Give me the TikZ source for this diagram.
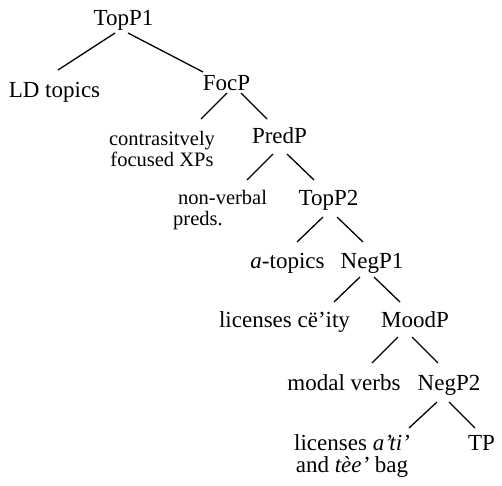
\documentclass[tikz,border=0pt]{standalone}
\usepackage{fontspec}
\setmainfont{Liberation Serif}
\begin{document}
\begin{tikzpicture}[x=1pt,y=-1pt,
  lbl/.style={inner sep=0pt,anchor=base,font=\fontsize{23}{23}\selectfont},
  sml/.style={inner sep=0pt,anchor=base,font=\fontsize{20.5}{21}\selectfont},
  twol/.style={inner sep=0pt,anchor=base,align=center,font=\fontsize{23}{22}\selectfont},
  edge/.style={line width=1.3pt}]
\useasboundingbox (0,0) rectangle (502,485);
\node[lbl] (topp1) at (123.5,25) {TopP1};
\node[lbl] (ld) at (54.5,97) {LD topics};
\node[lbl] (focp) at (226.5,90) {FocP};
\node[sml,align=center] (contr) at (162,166) {contrasitvely\\focused XPs};
\node[lbl] (predp) at (279.5,143) {PredP};
\node[sml,align=left,anchor=base west] (nonverb) at (173,225) {\hspace*{5pt}non-verbal\\preds.};
\node[lbl] (topp2) at (328.5,205) {TopP2};
\node[lbl] (atop) at (287.5,268) {\textit{a}-topics};
\node[lbl] (negp1) at (372,268) {NegP1};
\node[lbl] (lic1) at (284.5,327) {licenses cë’ity};
\node[lbl] (moodp) at (415,327) {MoodP};
\node[lbl] (modal) at (344,390) {modal verbs};
\node[lbl] (negp2) at (449,390) {NegP2};
\node[twol] (lic2) at (352,472) {licenses \textit{a’ti’}\\and \textit{tèe’} bag};
\node[lbl] (tp) at (481.5,450) {TP};

\draw[edge] ([shift={(-8.5,8)}]topp1.base) -- ([shift={(3.5,-27)}]ld.base);
\draw[edge] ([shift={(4.5,8)}]topp1.base) -- ([shift={(-23.5,-18)}]focp.base);
\draw[edge] ([shift={(0.5,3)}]focp.base) -- ([shift={(39,-47)}]contr.base);
\draw[edge] ([shift={(14.5,3)}]focp.base) -- ([shift={(-12.5,-24)}]predp.base);
\draw[edge] ([shift={(-6.5,11)}]predp.base) -- ([shift={(74,-45)}]nonverb.base west);
\draw[edge] ([shift={(7.5,11)}]predp.base) -- ([shift={(-14.5,-25)}]topp2.base);
\draw[edge] ([shift={(-5.5,12)}]topp2.base) -- ([shift={(9.5,-26)}]atop.base);
\draw[edge] ([shift={(8.5,12)}]topp2.base) -- ([shift={(-9,-26)}]negp1.base);
\draw[edge] ([shift={(-12,9)}]negp1.base) -- ([shift={(49.5,-25)}]lic1.base);
\draw[edge] ([shift={(2,9)}]negp1.base) -- ([shift={(-15,-25)}]moodp.base);
\draw[edge] ([shift={(-17,10)}]moodp.base) -- ([shift={(28,-27)}]modal.base);
\draw[edge] ([shift={(-3,10)}]moodp.base) -- ([shift={(-11,-27)}]negp2.base);
\draw[edge] ([shift={(-12,12)}]negp2.base) -- ([shift={(57,-44)}]lic2.base);
\draw[edge] ([shift={(0,12)}]negp2.base) -- ([shift={(-6.5,-22)}]tp.base);
\end{tikzpicture}
\end{document}
